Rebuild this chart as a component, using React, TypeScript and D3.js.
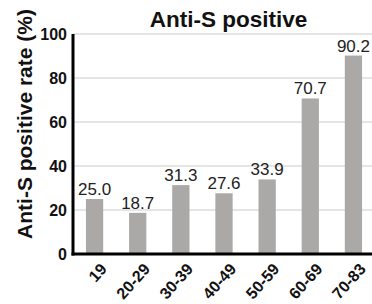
import React from "react";
import * as d3 from "d3";

const categories = ["19", "20-29", "30-39", "40-49", "50-59", "60-69", "70-83"];
const values = [25.0, 18.7, 31.3, 27.6, 33.9, 70.7, 90.2];
const yTicks = [0, 20, 40, 60, 80, 100];
const title = "Anti-S positive";
const yTitle = "Anti-S positive rate (%)";

export default function App() {
  const W = 372, H = 304;
  const left = 73, right = 375, top = 34, bottom = 254;
  const x = d3.scaleBand<string>().domain(categories).range([left, right]).paddingInner(0.6).paddingOuter(0.3);
  const y = d3.scaleLinear().domain([0, 100]).range([bottom, top]);
  const font = "Arial, 'Liberation Sans', sans-serif";
  return (
    <svg width={W} height={H} style={{ position: "absolute", left: 0, top: 0 }} fontFamily={font}>
      <rect width={W} height={H} fill="#fff" />
      {yTicks.filter(t => t > 0).map(t => (
        <line key={t} x1={left} x2={W} y1={y(t)} y2={y(t)} stroke="#dcdcdc" strokeWidth={1.5} />
      ))}
      {categories.map((c, i) => (
        <rect key={c} x={x(c)!} y={y(values[i])} width={x.bandwidth()} height={bottom - y(values[i])} fill="#aba9a7" />
      ))}
      {categories.map((c, i) => (
        <text key={c} x={x(c)! + x.bandwidth() / 2} y={y(values[i]) - 4} textAnchor="middle" fontSize={17} fill="#222">
          {values[i].toFixed(1)}
        </text>
      ))}
      <line x1={left} x2={left} y1={top} y2={bottom + 1.5} stroke="#000" strokeWidth={3} />
      <line x1={left - 1.5} x2={W} y1={bottom} y2={bottom} stroke="#000" strokeWidth={3} />
      {yTicks.map(t => (
        <text key={t} x={left - 6} y={y(t) + 6} textAnchor="end" fontSize={16} fontWeight="bold" fill="#111">
          {t}
        </text>
      ))}
      {categories.map(c => {
        const cx = x(c)! + x.bandwidth() / 2 + 9;
        const cy = bottom + 12;
        return (
          <text key={c} transform={`translate(${cx},${cy}) rotate(-48)`} textAnchor="end" dy="0.35em" fontSize={16} fontWeight="bold" fill="#111">
            {c}
          </text>
        );
      })}
      <text x={228.5} y={27} textAnchor="middle" fontSize={22.5} fontWeight="bold" fill="#111">{title}</text>
      <text transform={`translate(32,124) rotate(-90)`} textAnchor="middle" fontSize={21} fontWeight="bold" fill="#111">
        {yTitle}
      </text>
    </svg>
  );
}
